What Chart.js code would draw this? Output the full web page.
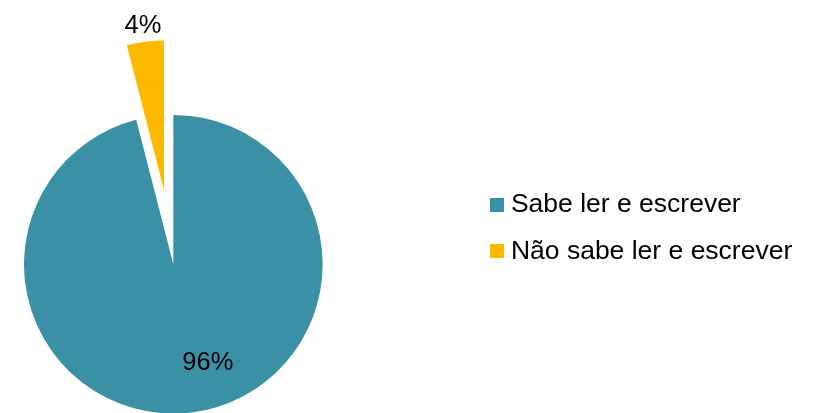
<!DOCTYPE html>
<html><head><meta charset="utf-8">
<script src="https://cdn.jsdelivr.net/npm/chart.js@4.4.1/dist/chart.umd.min.js"></script>
<style>html,body{margin:0;padding:0;background:#fff;overflow:hidden;width:823px;height:413px;position:relative}
#c{display:block;position:absolute;left:-130px;top:0}</style>
</head><body>
<canvas id="c" width="953" height="413"></canvas>
<script>
// ---- data ----
const categories = ["Sabe ler e escrever", "Não sabe ler e escrever"];
const values = [96, 4];
const colors = ["#3A91A6", "#FFB800"];

// ---- style ----
const FONT = '"Liberation Sans", Arial, sans-serif';
const FS = 25.5;        // percentage labels
const LEG_FS = 26.5;    // legend text
const RADIUS = 149.3;
const EXPLODE = [0, 75];
const LABEL_POS = [{dAngle: -12.4, k: 0.688}, {dAngle: 0, k: 1.122}];

function swatch(color) {
  const c = document.createElement('canvas');
  c.width = 14; c.height = 14;
  const x = c.getContext('2d');
  x.fillStyle = color; x.fillRect(0, 0, 14, 14);
  return c;
}
const swatches = colors.map(swatch);

const explodePlugin = {
  id: 'explode',
  afterDatasetUpdate(chart, args) {
    args.meta.data.forEach((arc, i) => {
      const d = EXPLODE[i] || 0;
      if (!d) return;
      const mid = (arc.startAngle + arc.endAngle) / 2;
      arc.x += Math.cos(mid) * d;
      arc.y += Math.sin(mid) * d;
    });
  }
};

const labelPlugin = {
  id: 'pctLabels',
  afterDatasetsDraw(chart) {
    const ctx = chart.ctx;
    const meta = chart.getDatasetMeta(0);
    const total = values.reduce((a, b) => a + b, 0);
    ctx.save();
    ctx.font = FS + 'px ' + FONT;
    ctx.fillStyle = '#000';
    ctx.textAlign = 'center';
    ctx.textBaseline = 'alphabetic';
    meta.data.forEach((arc, i) => {
      const p = LABEL_POS[i];
      const a = (arc.startAngle + arc.endAngle) / 2 + p.dAngle * Math.PI / 180;
      const r = arc.outerRadius * p.k;
      const x = arc.x + Math.cos(a) * r;
      const y = arc.y + Math.sin(a) * r;
      ctx.fillText(Math.round(values[i] / total * 100) + '%', x, y + 0.358 * FS);
    });
    ctx.restore();
  }
};

const ov = (Chart.overrides.pie && Chart.overrides.pie.plugins && Chart.overrides.pie.plugins.legend)
  ? Chart.overrides.pie : Chart.overrides.doughnut;
const baseGen = ov.plugins.legend.labels.generateLabels;

new Chart(document.getElementById('c'), {
  type: 'pie',
  data: {
    labels: categories,
    datasets: [{ data: values, backgroundColor: colors, borderWidth: 0, radius: RADIUS, clip: false }]
  },
  options: {
    responsive: false,
    animation: false,
    events: [],
    radius: RADIUS,
    layout: { padding: { left: 0, right: 20.75, top: 171.45, bottom: 55.85 } },
    plugins: {
      tooltip: { enabled: false },
      legend: {
        position: 'right',
        align: 'start',
        labels: {
          font: { family: FONT, size: LEG_FS },
          color: '#000',
          usePointStyle: true,
          pointStyleWidth: 1,
          boxHeight: 14,
          padding: 20,
          generateLabels(chart) {
            const items = baseGen(chart);
            items.forEach((it, i) => { it.pointStyle = swatches[it.index != null ? it.index : i]; });
            return items;
          }
        }
      }
    }
  },
  plugins: [explodePlugin, labelPlugin]
});
</script>
</body></html>
